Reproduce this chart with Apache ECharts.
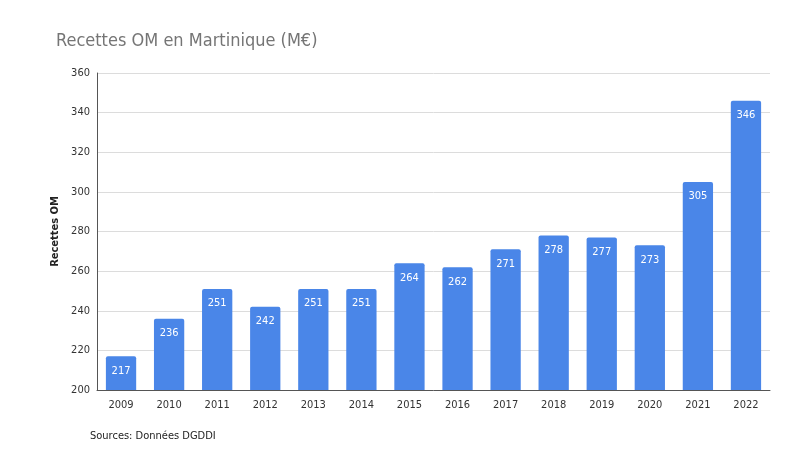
<!DOCTYPE html>
<html><head><meta charset="utf-8">
<script src="https://cdn.jsdelivr.net/npm/echarts@6/dist/echarts.min.js"></script>
<style>html,body{margin:0;padding:0;background:#fff}#c{width:800px;height:463px}</style>
</head><body><div id="c"></div>
<script>
const years = ['2009','2010','2011','2012','2013','2014','2015','2016','2017','2018','2019','2020','2021','2022'];
const recettes = [217,236,251,242,251,251,264,262,271,278,277,273,305,346];
const yTicks = {min:200, max:360, interval:20};
const font = '"DejaVu Sans Condensed",Roboto,Arial,sans-serif';
const chart = echarts.init(document.getElementById('c'));
chart.setOption({
  animation:false,
  backgroundColor:'#fff',
  title:[{text:'Recettes OM en Martinique (M€)',left:51,top:27,textStyle:{color:'#757575',fontSize:18,fontWeight:'normal',fontFamily:font}},
         {text:'Sources: Données DGDDI',left:85,top:426,textStyle:{color:'#222',fontSize:11,fontWeight:'normal',fontFamily:font}}],
  grid:{left:97,right:30,top:73,bottom:73},
  xAxis:{type:'category',data:years,
    axisLine:{lineStyle:{color:'#555',width:1}},axisTick:{show:false},
    axisLabel:{color:'#333',fontSize:11,fontFamily:font,margin:10}},
  yAxis:{type:'value',min:yTicks.min,max:yTicks.max,interval:yTicks.interval,
    name:'Recettes OM',nameLocation:'middle',nameGap:30,
    nameTextStyle:{color:'#222',fontSize:11,fontWeight:'bold',fontFamily:font},
    axisLine:{show:true,lineStyle:{color:'#555',width:1}},axisTick:{show:false},
    axisLabel:{color:'#333',fontSize:11,fontFamily:font,margin:7},
    splitLine:{lineStyle:{color:'#dcdcdc',width:1}}},
  series:[{type:'bar',data:recettes,barCategoryGap:'37%',
    itemStyle:{color:'#4a86e8',borderRadius:[2,2,0,0]},
    label:{show:true,position:'insideTop',distance:9,color:'#fff',fontSize:11,fontFamily:font}}]
});
</script></body></html>
